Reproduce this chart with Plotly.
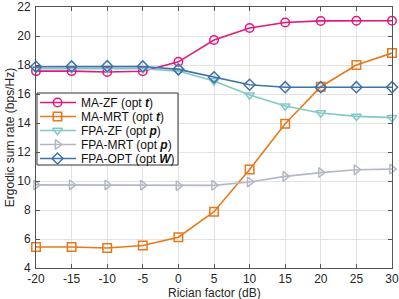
import plotly.graph_objects as go

x_db = [-20, -15, -10, -5, 0, 5, 10, 15, 20, 25, 30]
ma_zf = [17.58, 17.58, 17.52, 17.57, 18.22, 19.72, 20.55, 20.93, 21.04, 21.05, 21.05]
ma_mrt = [5.45, 5.45, 5.38, 5.55, 6.12, 7.88, 10.8, 13.95, 16.5, 18.0, 18.82]
fpa_zf = [17.75, 17.76, 17.76, 17.74, 17.58, 16.9, 15.93, 15.17, 14.69, 14.46, 14.37]
fpa_mrt = [9.73, 9.73, 9.73, 9.71, 9.68, 9.7, 9.93, 10.32, 10.58, 10.78, 10.82]
fpa_opt = [17.88, 17.9, 17.92, 17.9, 17.7, 17.15, 16.64, 16.47, 16.47, 16.47, 16.47]

names = [
    "MA-ZF (opt <b><i>t</i></b>)",
    "MA-MRT (opt <b><i>t</i></b>)",
    "FPA-ZF (opt <b><i>p</i></b>)",
    "FPA-MRT (opt <b><i>p</i></b>)",
    "FPA-OPT (opt <b><i>W</i></b>)",
]
values = [ma_zf, ma_mrt, fpa_zf, fpa_mrt, fpa_opt]
colors = ["#e5177b", "#e8781a", "#83c8c5", "#b3b9c4", "#3f72aa"]
symbols = ["circle-open", "square-open", "triangle-down-open", "triangle-right-open", "diamond-open"]

# plot area geometry (pixels) used for the hand-drawn legend box
W, H = 399, 299
ML, MR, MT, MB = 36, 7, 7, 31
PW, PH = W - ML - MR, H - MT - MB

def px_x(px):
    return (px - ML) / PW

def px_y(py):
    return (H - MB - py) / PH

fig = go.Figure()
for name, ys, color, sym in zip(names, values, colors, symbols):
    fig.add_trace(go.Scatter(
        x=x_db, y=ys, name=name, mode="lines+markers",
        line=dict(color=color, width=1.6),
        marker=dict(symbol=sym, size=8.5, color=color, line=dict(width=1.5, color=color)),
        cliponaxis=False, showlegend=False,
    ))

# legend (drawn in an overlay 0..1 coordinate frame)
box_l, box_r, box_t, box_b = 37, 178, 93, 165
item_y = [102.5, 116.5, 130.5, 144.5, 158.5]
line_x0, line_x1, mark_x, text_x = 40, 76, 57.5, 79

bx = [px_x(box_l), px_x(box_r), px_x(box_r), px_x(box_l), px_x(box_l)]
by = [px_y(box_t), px_y(box_t), px_y(box_b), px_y(box_b), px_y(box_t)]
fig.add_trace(go.Scatter(
    x=bx, y=by, xaxis="x2", yaxis="y2", mode="lines", fill="toself",
    fillcolor="white", line=dict(color="#333333", width=1),
    showlegend=False, hoverinfo="skip",
))

for name, color, sym, iy in zip(names, colors, symbols, item_y):
    fig.add_trace(go.Scatter(
        x=[px_x(line_x0), px_x(line_x1)], y=[px_y(iy), px_y(iy)],
        xaxis="x2", yaxis="y2", mode="lines",
        line=dict(color=color, width=1.6), showlegend=False, hoverinfo="skip",
    ))
    fig.add_trace(go.Scatter(
        x=[px_x(mark_x)], y=[px_y(iy)], xaxis="x2", yaxis="y2", mode="markers",
        marker=dict(symbol=sym, size=8.5, color=color, line=dict(width=1.5, color=color)),
        showlegend=False, hoverinfo="skip",
    ))
    fig.add_annotation(
        x=px_x(text_x), y=px_y(iy), xref="paper", yref="paper",
        text=name, showarrow=False, xanchor="left", yanchor="middle",
        font=dict(size=12, color="#111111"),
    )

fig.add_annotation(
    x=0.5, y=px_y(292.5), xref="paper", yref="paper", text="Rician factor (dB)",
    showarrow=False, xanchor="center", yanchor="middle", font=dict(size=12, color="#262626"),
)

font = "Liberation Sans, Arial, sans-serif"
fig.update_layout(
    width=W, height=H,
    margin=dict(l=ML, r=MR, t=MT, b=MB, autoexpand=False),
    paper_bgcolor="white", plot_bgcolor="white",
    font=dict(family=font, size=12, color="#262626"),
    showlegend=False,
    xaxis=dict(
        range=[-20, 30], tickmode="array", tickvals=x_db,
        ticktext=[str(v) for v in x_db],
        showgrid=True, gridcolor="#e3e3e3", gridwidth=1,
        showline=True, linecolor="#555555", linewidth=1, mirror="ticks",
        ticks="inside", ticklen=4, tickcolor="#555555",
        tickfont=dict(size=12), ticklabelstandoff=0,
        zeroline=False, automargin=False,
    ),
    yaxis=dict(
        range=[4, 22], tickmode="array", tickvals=list(range(4, 23, 2)),
        showgrid=True, gridcolor="#e3e3e3", gridwidth=1,
        showline=True, linecolor="#555555", linewidth=1, mirror="ticks",
        ticks="inside", ticklen=4, tickcolor="#555555",
        tickfont=dict(size=12), ticklabelstandoff=2,
        title=dict(text="Ergodic sum rate (bps/Hz)", font=dict(size=12), standoff=0),
        zeroline=False, automargin=False,
    ),
    xaxis2=dict(overlaying="x", range=[0, 1], visible=False, fixedrange=True),
    yaxis2=dict(overlaying="y", range=[0, 1], visible=False, fixedrange=True),
)

fig.write_html(
    "out.html",
    config={"displayModeBar": False},
    post_script="document.body.style.margin='0px';document.body.style.overflow='hidden';",
)
